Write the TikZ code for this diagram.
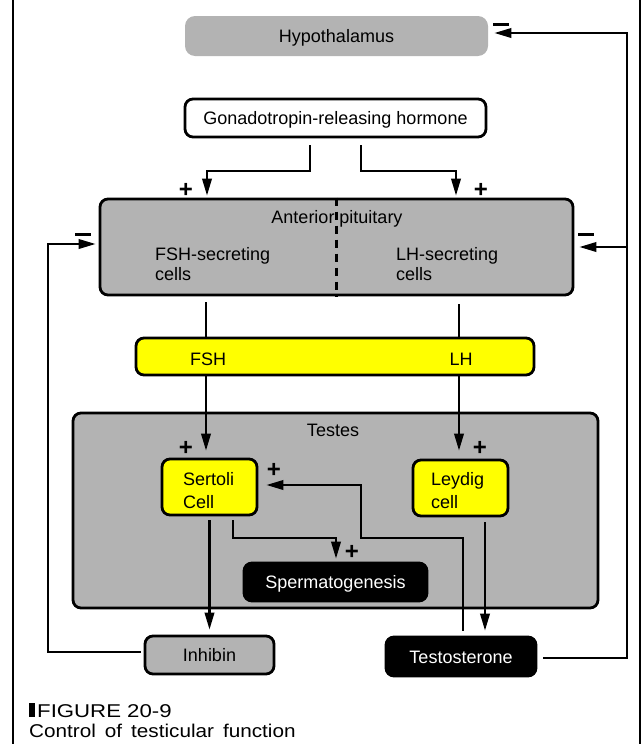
\documentclass[tikz,border=0pt]{standalone}
\usepackage{fontspec}
\usepackage{graphicx}
\setmainfont{Liberation Sans}
\usetikzlibrary{arrows.meta}
\definecolor{boxgray}{RGB}{179,179,179}
\definecolor{hormyellow}{RGB}{255,255,0}
\begin{document}
\begin{tikzpicture}[x=1pt,y=-1pt,
  font=\fontsize{18pt}{20pt}\selectfont,
  conn/.style={line width=2.2pt},
  arr/.style={conn,-{Triangle[length=17pt,width=9.5pt]}},
  box/.style={rounded corners=8pt,line width=2.8pt,inner sep=0pt,text height=13pt,text depth=0pt},
  lbl/.style={inner sep=0pt,anchor=base},
  lblw/.style={inner sep=0pt,anchor=base west},
  plussign/.style={inner sep=0pt,anchor=base,font=\fontsize{24pt}{24pt}\selectfont\bfseries},
  minussign/.style={fill=black,minimum width=16pt,minimum height=3pt,inner sep=0pt},
  captext/.style={inner sep=0pt,anchor=base west,font=\fontsize{18.5pt}{20pt}\selectfont},
]
\useasboundingbox (0,0) rectangle (643,744);
% frame
\draw[conn] (13,0) -- (13,744);
\draw[conn] (640,0) -- (640,744);

% boxes
\node[box,fill=boxgray,minimum width=303pt,minimum height=40pt,rounded corners=10pt] (hyp) at (336.5,36) {Hypothalamus};
\node[box,draw,fill=white,minimum width=301pt,minimum height=38pt] (gnrh) at (335.5,118) {Gonadotropin-releasing hormone};
\node[box,draw,fill=boxgray,minimum width=473pt,minimum height=96pt] (pit) at (336.5,247) {};
\draw[conn,line width=2.5pt,dash pattern=on 8pt off 6pt] (pit.north) -- (pit.south);
\node[lbl] (ap) at (337,223) {Anterior pituitary};
\node[lblw] (fsc1) at (155,260) {FSH-secreting};
\node[lblw] (fsc2) at (155,280) {cells};
\node[lblw] (lsc1) at (396,260) {LH-secreting};
\node[lblw] (lsc2) at (396,280) {cells};

\node[box,draw,fill=hormyellow,minimum width=398pt,minimum height=37pt] (bar) at (335,356.5) {};
\node[lbl] (fsh) at (208,365) {FSH};
\node[lbl] (lh) at (461,365) {LH};

\node[box,draw,fill=boxgray,minimum width=525pt,minimum height=195pt] (testes) at (335.5,510.5) {};
\node[lbl] (testeslbl) at (333,436) {Testes};
\node[box,draw,fill=hormyellow,minimum width=95pt,minimum height=56pt] (sert) at (209.5,487) {};
\node[lblw] (sert1) at (183,485) {Sertoli};
\node[lblw] (sert2) at (183,508) {Cell};
\node[box,draw,fill=hormyellow,minimum width=95pt,minimum height=56pt] (leyd) at (460.5,488) {};
\node[lblw] (leyd1) at (431,485) {Leydig};
\node[lblw] (leyd2) at (431,508) {cell};
\node[box,draw,fill=black,text=white,minimum width=183pt,minimum height=38pt] (sperm) at (335.5,582) {Spermatogenesis};
\node[box,draw,fill=boxgray,minimum width=129pt,minimum height=38pt] (inh) at (209.5,655) {Inhibin};
\node[box,draw,fill=black,text=white,minimum width=150pt,minimum height=39pt] (test) at (461,656.5) {Testosterone};

% connectors
\coordinate (cL) at (310,171); \coordinate (gL) at (207,171);
\coordinate (cR) at (361,171); \coordinate (gR) at (456,171);
\draw[arr,shorten <=7pt,shorten >=2pt] (gnrh.south -| cL) -- (cL) -- (gL) -- (pit.north -| gL);
\draw[arr,shorten <=7pt,shorten >=2pt] (gnrh.south -| cR) -- (cR) -- (gR) -- (pit.north -| gR);

\coordinate (fx) at (206,320); \coordinate (lx) at (459,320);
\draw[conn,shorten <=6pt] (pit.south -| fx) -- (bar.north -| fx);
\draw[conn,shorten <=8pt] (pit.south -| lx) -- (bar.north -| lx);
\draw[arr,shorten >=7pt] (bar.south -| fx) -- (sert.north -| fx);
\draw[arr,shorten >=8pt] (bar.south -| lx) -- (leyd.north -| lx);

\draw[arr,shorten <=4pt,shorten >=5pt] (sert.south) -- (inh.north);
\coordinate (s1) at (233,538); \coordinate (s2) at (336,538);
\draw[arr,shorten <=4pt,shorten >=3pt] (sert.south -| s1) -- (s1) -- (s2) -- (sperm.north -| s2);
\coordinate (ly) at (485,600);
\draw[arr,shorten <=5pt,shorten >=5pt] (leyd.south -| ly) -- (test.north -| ly);
\coordinate (t1) at (463,538); \coordinate (t2) at (361,538); \coordinate (t3) at (361,485);
\draw[arr,shorten <=5pt,shorten >=8pt] (test.north -| t1) -- (t1) -- (t2) -- (t3) -- (sert.east |- t3);

\coordinate (i1) at (48,652); \coordinate (i2) at (48,244);
\draw[arr,shorten <=3pt,shorten >=3pt] (inh.west |- i1) -- (i1) -- (i2) -- (pit.west |- i2);
\coordinate (r1) at (627,658); \coordinate (r2) at (627,33); \coordinate (r3) at (627,247);
\draw[arr,shorten <=6pt,shorten >=5pt] (test.east |- r1) -- (r1) -- (r2) -- (hyp.east |- r2);
\draw[arr,shorten >=5pt] (r3) -- (pit.east |- r3);

% signs
\node[plussign] (p1) at (186,197) {+};
\node[plussign] (p2) at (481,197) {+};
\node[plussign] (p3) at (186,455) {+};
\node[plussign] (p4) at (480,455) {+};
\node[plussign] (p5) at (274,477) {+};
\node[plussign] (p6) at (352,559) {+};
\node[minussign] (m1) at (83,234) {};
\node[minussign] (m2) at (586,234) {};
\node[minussign] (m3) at (501,24) {};

% caption
\fill (29,703) rectangle (35,717);
\node[captext] (fig) at (37,717) {\scalebox{1.2}[1]{FIGURE 20-9}};
\node[captext] (capt) at (29,737.5) {\scalebox{1.12}[1]{\spaceskip=8pt Control of testicular function}};
\end{tikzpicture}
\end{document}
